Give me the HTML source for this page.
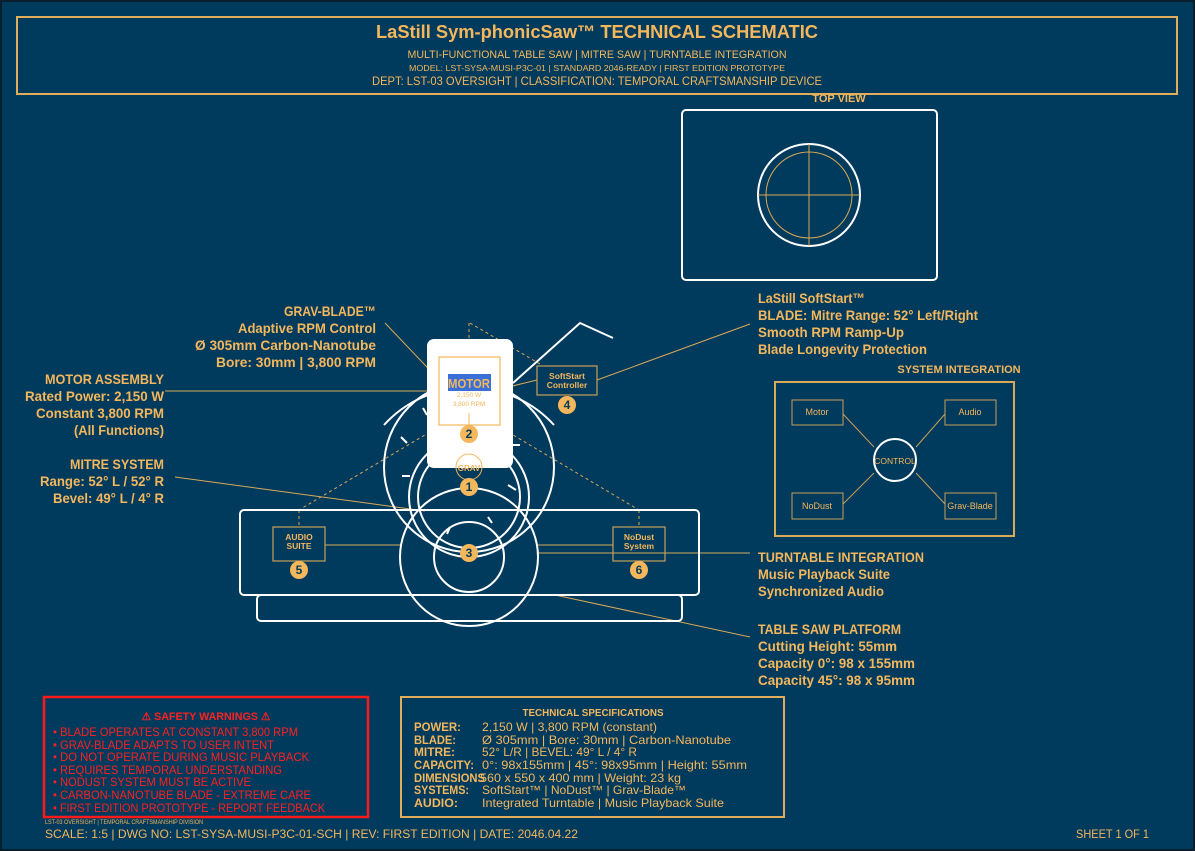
<!DOCTYPE html>
<html><head><meta charset="utf-8"><style>
html,body{margin:0;padding:0;background:#003a5c;}
svg{display:block;}
text{font-family:"Liberation Sans",sans-serif;}
.g{fill:#f5b75c;}
.b{font-weight:bold;}
</style></head><body>
<svg width="1195" height="851" viewBox="0 0 1195 851" xmlns="http://www.w3.org/2000/svg">
<rect x="0" y="0" width="1195" height="851" fill="#003a5c"/>
<rect x="1" y="1" width="1193" height="849" fill="none" stroke="#0b1e2c" stroke-width="2"/>
<!-- header -->
<rect x="17" y="17" width="1160" height="77" fill="none" stroke="#e0ad5a" stroke-width="2"/>
<text class="g b" x="597" y="38" text-anchor="middle" font-size="18" textLength="442" lengthAdjust="spacingAndGlyphs">LaStill Sym-phonicSaw™ TECHNICAL SCHEMATIC</text>
<text class="g" x="597" y="58" text-anchor="middle" font-size="11" textLength="379" lengthAdjust="spacingAndGlyphs">MULTI-FUNCTIONAL TABLE SAW | MITRE SAW | TURNTABLE INTEGRATION</text>
<text class="g" x="597" y="71" text-anchor="middle" font-size="8.5" textLength="376" lengthAdjust="spacingAndGlyphs">MODEL: LST-SYSA-MUSI-P3C-01 | STANDARD 2046-READY | FIRST EDITION PROTOTYPE</text>
<text class="g" x="597" y="85" text-anchor="middle" font-size="12" textLength="450" lengthAdjust="spacingAndGlyphs">DEPT: LST-03 OVERSIGHT | CLASSIFICATION: TEMPORAL CRAFTSMANSHIP DEVICE</text>

<!-- top view -->
<text class="g b" x="839" y="102" text-anchor="middle" font-size="11">TOP VIEW</text>
<rect x="682" y="110" width="255" height="170" rx="4" fill="none" stroke="#fff" stroke-width="2"/>
<circle cx="809" cy="195" r="51" fill="none" stroke="#fff" stroke-width="2"/>
<circle cx="809" cy="195" r="43" fill="none" stroke="#d9a957" stroke-width="1"/>
<line x1="758" y1="195" x2="860" y2="195" stroke="#d9a957"/>
<line x1="809" y1="144" x2="809" y2="246" stroke="#d9a957"/>

<!-- system integration -->
<text class="g b" x="959" y="373" text-anchor="middle" font-size="11">SYSTEM INTEGRATION</text>
<rect x="775" y="382" width="239" height="154" fill="none" stroke="#d9a957" stroke-width="2"/>
<g stroke="#c9a05a" fill="none" stroke-width="1">
<rect x="792" y="400" width="51" height="25"/><rect x="945" y="400" width="51" height="25"/>
<rect x="792" y="493" width="51" height="26"/><rect x="945" y="493" width="51" height="26"/>
<line x1="843" y1="414" x2="874" y2="447"/><line x1="945" y1="414" x2="916" y2="447"/>
<line x1="843" y1="504" x2="874" y2="473"/><line x1="945" y1="504" x2="916" y2="473"/>
</g>
<circle cx="895" cy="460" r="21" fill="none" stroke="#fff" stroke-width="2"/>
<g class="g" font-size="9" text-anchor="middle">
<text x="817" y="415">Motor</text><text x="970" y="415">Audio</text>
<text x="817" y="509">NoDust</text><text x="970" y="509">Grav-Blade</text>
<text x="895" y="464" font-size="8.5">CONTROL</text>
</g>

<!-- leader lines -->
<g stroke="#d9a957" stroke-width="1" fill="none">
<line x1="385" y1="323" x2="463" y2="405"/>
<line x1="165" y1="391" x2="439" y2="391"/>
<line x1="175" y1="477" x2="425" y2="511"/>
<line x1="597" y1="380" x2="750" y2="324"/>
<line x1="538" y1="553" x2="750" y2="553"/>
<line x1="555" y1="595" x2="750" y2="637"/>
<line x1="325" y1="545" x2="401" y2="545"/>
<line x1="538" y1="545" x2="613" y2="545"/>
<line x1="500" y1="389" x2="537" y2="380"/>
</g>
<g stroke="#d9a957" stroke-width="1" stroke-dasharray="3,3" fill="none">
<line x1="469" y1="323" x2="469" y2="340"/>
<line x1="470" y1="323" x2="540" y2="364"/>
<line x1="440" y1="426" x2="299" y2="510"/><line x1="299" y1="510" x2="299" y2="527"/>
<line x1="498" y1="426" x2="639" y2="510"/><line x1="639" y1="510" x2="639" y2="527"/>
</g>

<!-- white drawing -->
<g stroke="#fff" stroke-width="2" fill="none">
<rect x="240" y="510" width="459" height="85" rx="4"/>
<rect x="257" y="595" width="425" height="26" rx="4"/>
<circle cx="469" cy="467" r="85"/>
<circle cx="469" cy="497" r="60"/>
<circle cx="469" cy="497" r="51"/>
<circle cx="469" cy="557" r="69"/>
<circle cx="469" cy="557" r="35"/>
<path d="M384 425 A115 115 0 0 1 554 425"/>
<polyline points="513,383 580,323 613,338"/>
<line x1="402" y1="476" x2="410" y2="476"/>
<line x1="401" y1="437" x2="407" y2="443"/>
<line x1="423" y1="408" x2="427" y2="415"/>
<line x1="512" y1="445" x2="520" y2="445"/>
<line x1="508" y1="485" x2="516" y2="490"/>
<line x1="450" y1="527" x2="447" y2="534"/>
<line x1="488" y1="517" x2="492" y2="523"/>
</g>
<rect x="427" y="339" width="86" height="129" rx="7" fill="#fff"/>
<rect x="439" y="357" width="61" height="68" fill="none" stroke="#f5b75c" stroke-width="1.2"/>
<line x1="469" y1="413" x2="469" y2="425" stroke="#f5b75c"/>
<rect x="448" y="374" width="43" height="17" fill="#3a6fd8"/>
<text class="g b" x="469" y="388" text-anchor="middle" font-size="13" textLength="42" lengthAdjust="spacingAndGlyphs">MOTOR</text>
<text class="g" x="469" y="397" text-anchor="middle" font-size="6.5">2,150 W</text>
<text class="g" x="469" y="406" text-anchor="middle" font-size="6.5">3,800 RPM</text>
<circle cx="469" cy="467" r="13" fill="none" stroke="#f5b75c"/>
<text class="g b" x="469" y="471" text-anchor="middle" font-size="8">GRAV</text>

<!-- boxes -->
<g fill="none" stroke="#c9a05a" stroke-width="1.2">
<rect x="537" y="366" width="60" height="29"/>
<rect x="273" y="527" width="52" height="34"/>
<rect x="613" y="527" width="52" height="34"/>
</g>
<g class="g b" font-size="8.5" text-anchor="middle">
<text x="567" y="379">SoftStart</text><text x="567" y="388">Controller</text>
<text x="299" y="540">AUDIO</text><text x="299" y="549">SUITE</text>
<text x="639" y="540">NoDust</text><text x="639" y="549">System</text>
</g>
<!-- badges -->
<g fill="#f5b75c">
<circle cx="469" cy="487" r="9"/><circle cx="469" cy="434" r="9"/><circle cx="469" cy="553" r="9"/>
<circle cx="567" cy="405" r="9"/><circle cx="299" cy="570" r="9"/><circle cx="639" cy="570" r="9"/>
</g>
<g fill="#003a5c" font-size="12" font-weight="bold" text-anchor="middle">
<text x="469" y="491">1</text><text x="469" y="438">2</text><text x="469" y="557">3</text>
<text x="567" y="409">4</text><text x="299" y="574">5</text><text x="639" y="574">6</text>
</g>

<!-- side labels -->
<g class="g b" font-size="14" text-anchor="end" lengthAdjust="spacingAndGlyphs">
<text x="376" y="316" textLength="92" lengthAdjust="spacingAndGlyphs">GRAV-BLADE™</text>
<text x="376" y="333" textLength="138" lengthAdjust="spacingAndGlyphs">Adaptive RPM Control</text>
<text x="376" y="350" textLength="181" lengthAdjust="spacingAndGlyphs">Ø 305mm Carbon-Nanotube</text>
<text x="376" y="367" textLength="160" lengthAdjust="spacingAndGlyphs">Bore: 30mm | 3,800 RPM</text>
<text x="164" y="384" textLength="119" lengthAdjust="spacingAndGlyphs">MOTOR ASSEMBLY</text>
<text x="164" y="401" textLength="139" lengthAdjust="spacingAndGlyphs">Rated Power: 2,150 W</text>
<text x="164" y="418" textLength="128" lengthAdjust="spacingAndGlyphs">Constant 3,800 RPM</text>
<text x="164" y="435" textLength="90" lengthAdjust="spacingAndGlyphs">(All Functions)</text>
<text x="164" y="469" textLength="94" lengthAdjust="spacingAndGlyphs">MITRE SYSTEM</text>
<text x="164" y="486" textLength="124" lengthAdjust="spacingAndGlyphs">Range: 52° L / 52° R</text>
<text x="164" y="503" textLength="111" lengthAdjust="spacingAndGlyphs">Bevel: 49° L / 4° R</text>
</g>
<g class="g b" font-size="14">
<text x="758" y="303" textLength="107" lengthAdjust="spacingAndGlyphs">LaStill SoftStart™</text>
<text x="758" y="320" textLength="220" lengthAdjust="spacingAndGlyphs">BLADE: Mitre Range: 52° Left/Right</text>
<text x="758" y="337" textLength="146" lengthAdjust="spacingAndGlyphs">Smooth RPM Ramp-Up</text>
<text x="758" y="354" textLength="169" lengthAdjust="spacingAndGlyphs">Blade Longevity Protection</text>
<text x="758" y="562" textLength="166" lengthAdjust="spacingAndGlyphs">TURNTABLE INTEGRATION</text>
<text x="758" y="579" textLength="132" lengthAdjust="spacingAndGlyphs">Music Playback Suite</text>
<text x="758" y="596" textLength="126" lengthAdjust="spacingAndGlyphs">Synchronized Audio</text>
<text x="758" y="634" textLength="143" lengthAdjust="spacingAndGlyphs">TABLE SAW PLATFORM</text>
<text x="758" y="651" textLength="139" lengthAdjust="spacingAndGlyphs">Cutting Height: 55mm</text>
<text x="758" y="668" textLength="157" lengthAdjust="spacingAndGlyphs">Capacity 0°: 98 x 155mm</text>
<text x="758" y="685" textLength="157" lengthAdjust="spacingAndGlyphs">Capacity 45°: 98 x 95mm</text>
</g>

<!-- safety warnings -->
<rect x="44" y="697" width="324" height="120" fill="none" stroke="#ff1a1a" stroke-width="2.5"/>
<g fill="#ff2020" font-size="12">
<text x="206" y="720" text-anchor="middle" font-weight="bold" font-size="11" textLength="129" lengthAdjust="spacingAndGlyphs">⚠ SAFETY WARNINGS ⚠</text>
<text x="53" y="736" textLength="245" lengthAdjust="spacingAndGlyphs">• BLADE OPERATES AT CONSTANT 3,800 RPM</text>
<text x="53" y="749" textLength="221" lengthAdjust="spacingAndGlyphs">• GRAV-BLADE ADAPTS TO USER INTENT</text>
<text x="53" y="761" textLength="256" lengthAdjust="spacingAndGlyphs">• DO NOT OPERATE DURING MUSIC PLAYBACK</text>
<text x="53" y="774" textLength="229" lengthAdjust="spacingAndGlyphs">• REQUIRES TEMPORAL UNDERSTANDING</text>
<text x="53" y="786" textLength="198" lengthAdjust="spacingAndGlyphs">• NODUST SYSTEM MUST BE ACTIVE</text>
<text x="53" y="799" textLength="258" lengthAdjust="spacingAndGlyphs">• CARBON-NANOTUBE BLADE - EXTREME CARE</text>
<text x="53" y="812" textLength="272" lengthAdjust="spacingAndGlyphs">• FIRST EDITION PROTOTYPE - REPORT FEEDBACK</text>
</g>

<!-- specs -->
<rect x="401" y="697" width="383" height="120" fill="none" stroke="#e0ad5a" stroke-width="2"/>
<text class="g b" x="593" y="716" text-anchor="middle" font-size="10" textLength="141" lengthAdjust="spacingAndGlyphs">TECHNICAL SPECIFICATIONS</text>
<g class="g b" font-size="12">
<text x="414" y="731" textLength="47" lengthAdjust="spacingAndGlyphs">POWER:</text>
<text x="414" y="744" textLength="42" lengthAdjust="spacingAndGlyphs">BLADE:</text>
<text x="414" y="756" textLength="41" lengthAdjust="spacingAndGlyphs">MITRE:</text>
<text x="414" y="769" textLength="60" lengthAdjust="spacingAndGlyphs">CAPACITY:</text>
<text x="414" y="782" textLength="71" lengthAdjust="spacingAndGlyphs">DIMENSIONS</text>
<text x="414" y="794" textLength="55" lengthAdjust="spacingAndGlyphs">SYSTEMS:</text>
<text x="414" y="807" textLength="44" lengthAdjust="spacingAndGlyphs">AUDIO:</text>
</g>
<g class="g" font-size="12">
<text x="482" y="731" textLength="175" lengthAdjust="spacingAndGlyphs">2,150 W | 3,800 RPM (constant)</text>
<text x="482" y="744" textLength="249" lengthAdjust="spacingAndGlyphs">Ø 305mm | Bore: 30mm | Carbon-Nanotube</text>
<text x="482" y="756" textLength="155" lengthAdjust="spacingAndGlyphs">52° L/R | BEVEL: 49° L / 4° R</text>
<text x="482" y="769" textLength="265" lengthAdjust="spacingAndGlyphs">0°: 98x155mm | 45°: 98x95mm | Height: 55mm</text>
<text x="480" y="782" textLength="201" lengthAdjust="spacingAndGlyphs">560 x 550 x 400 mm | Weight: 23 kg</text>
<text x="482" y="794" textLength="204" lengthAdjust="spacingAndGlyphs">SoftStart™ | NoDust™ | Grav-Blade™</text>
<text x="482" y="807" textLength="242" lengthAdjust="spacingAndGlyphs">Integrated Turntable | Music Playback Suite</text>
</g>

<!-- footer -->
<text class="g" x="45" y="824" font-size="6" textLength="158" lengthAdjust="spacingAndGlyphs">LST-03 OVERSIGHT | TEMPORAL CRAFTSMANSHIP DIVISION</text>
<text class="g" x="45" y="838" font-size="12" textLength="533" lengthAdjust="spacingAndGlyphs">SCALE: 1:5 | DWG NO: LST-SYSA-MUSI-P3C-01-SCH | REV: FIRST EDITION | DATE: 2046.04.22</text>
<text class="g" x="1149" y="838" font-size="12" text-anchor="end" textLength="73" lengthAdjust="spacingAndGlyphs">SHEET 1 OF 1</text>
</svg>
</body></html>
